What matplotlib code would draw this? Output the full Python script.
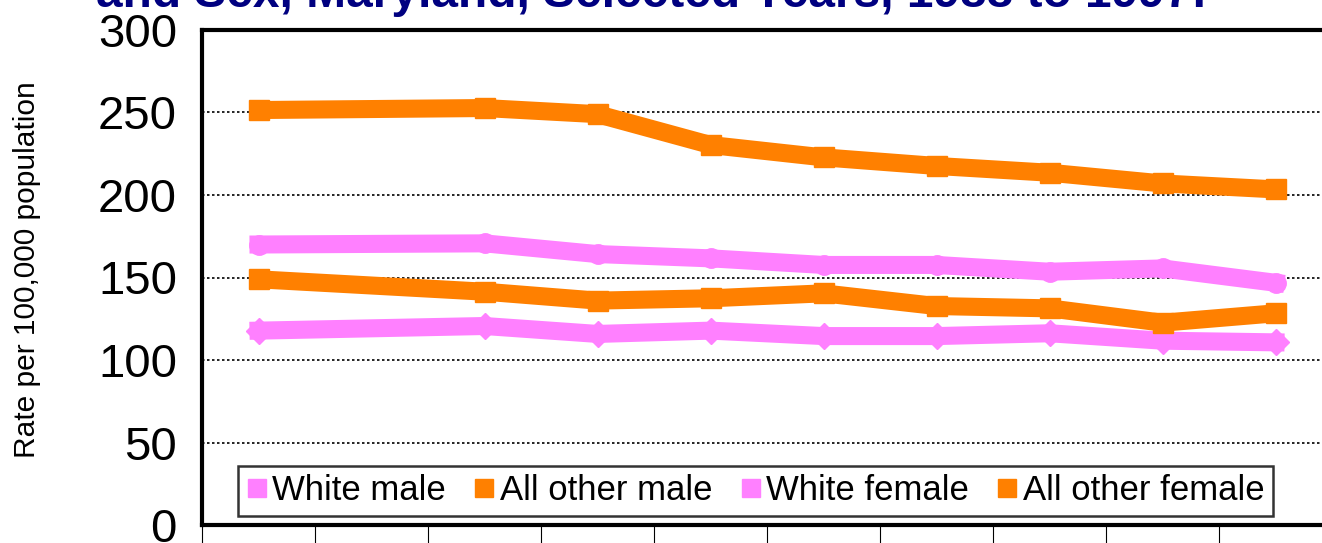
import matplotlib.pyplot as plt
from matplotlib.lines import Line2D

plt.rcParams['font.family'] = ['Liberation Sans', 'DejaVu Sans']

# data (1989 not shown)
years = [1988, 1990, 1991, 1992, 1993, 1994, 1995, 1996, 1997]
white_male = [170, 170.7, 164.2, 161.6, 157.6, 157.6, 153.5, 155.5, 146.8]
other_male = [251.5, 252.7, 249, 230.3, 222.8, 217.6, 213.5, 207, 203.4]
white_female = [117.8, 120.6, 115.8, 117.8, 114.5, 114.5, 116.2, 111.7, 110.7]
other_female = [148.9, 141.4, 136, 137.4, 140.4, 132.7, 131.3, 122.6, 128.3]

first_year = 1988
n_cats = 10
pink = '#FF80FF'
orange = '#FF8000'

W, H = 1322, 543
fig = plt.figure(figsize=(W / 100, H / 100), dpi=100)
ax = fig.add_axes([202 / W, 18 / H, 1130 / W, 495 / H])

x = [y - first_year for y in years]
ax.plot(x, white_male, color=pink, lw=13, marker='o', ms=14, solid_joinstyle='miter')
ax.plot(x, other_male, color=orange, lw=13, marker='s', ms=15, solid_joinstyle='miter')
ax.plot(x, white_female, color=pink, lw=13, marker='D', ms=13, solid_joinstyle='miter')
ax.plot(x, other_female, color=orange, lw=13, marker='s', ms=15, solid_joinstyle='miter')

ax.set_xlim(-0.5, n_cats - 0.5)
ax.set_ylim(0, 300)
ax.set_yticks(range(0, 301, 50))
ax.tick_params(axis='y', length=0, pad=18, labelsize=34)
ax.set_xticks([])
ax.set_xticks([i - 0.5 for i in range(n_cats + 1)], minor=True)
ax.tick_params(axis='x', which='minor', length=14, width=0.8, direction='out')
ax.yaxis.grid(True, linestyle=(0, (1.5, 1.5)), color='black', lw=1.2)
ax.set_axisbelow(True)
for s in ax.spines.values():
    s.set_linewidth(3)

fig.text(27 / W, 1 - 270 / H, 'Rate per 100,000 population', rotation=90,
         ha='center', va='center', fontsize=21.5)

fig.text(652 / W, 1 - 7 / H, 'and Sex, Maryland, Selected Years, 1988 to 1997:',
         ha='center', va='baseline', fontsize=34.5, fontweight='bold', color='#000080')

labels = ['White male', 'All other male', 'White female', 'All other female']
colors = [pink, orange, pink, orange]
handles = [Line2D([], [], ls='none', marker='s', ms=13, color=c) for c in colors]
leg = fig.legend(handles, labels, loc='center', bbox_to_anchor=(755.5 / W, 1 - 491 / H),
                 ncol=4, fontsize=25, frameon=True, fancybox=False, edgecolor='black',
                 handlelength=0.6, handletextpad=0.15, columnspacing=0.8, borderpad=0.25)
leg.get_frame().set_linewidth(1.8)

fig.savefig('out.png', dpi=100)
